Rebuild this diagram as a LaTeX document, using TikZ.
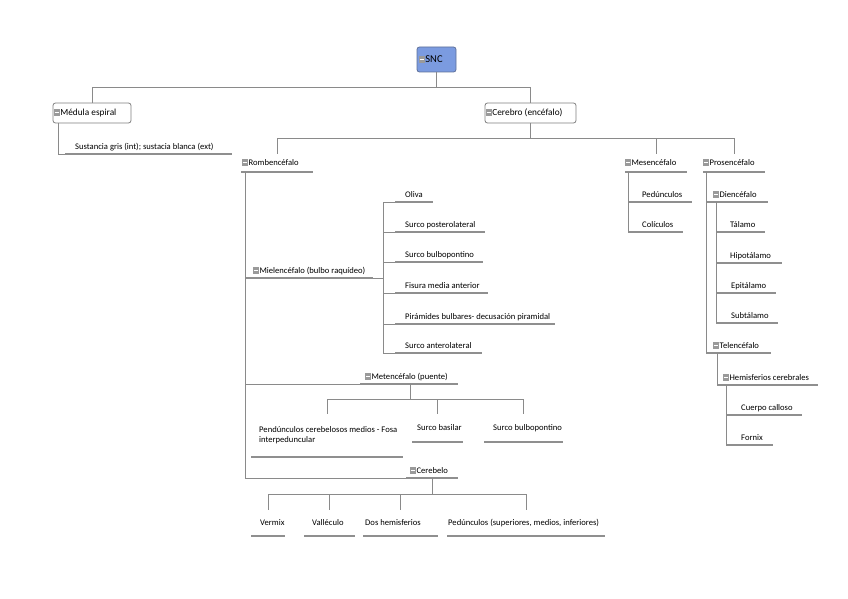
\documentclass[tikz,border=0pt]{standalone}
\usepackage{fontspec}
\setmainfont{Carlito}
\definecolor{lnc}{HTML}{8A8A8A}
\definecolor{ulc}{HTML}{8F8F8F}
\definecolor{sncfill}{HTML}{7B9BE0}
\definecolor{sncdraw}{HTML}{5E7099}
\definecolor{boxdraw}{HTML}{7F7F7F}
\definecolor{icc}{HTML}{9A9A9A}
\newcommand\xic{\textcolor{icc}{\rule[-0.5pt]{5.5pt}{7pt}}\kern-4.8pt\textcolor{white}{\rule[2.6pt]{4.1pt}{0.8pt}}\kern1.6pt}
\newcommand\leaftext[3]{\makebox[#1pt][l]{\hspace*{#2pt}#3}}
\tikzset{
  conn/.style={draw=lnc, line width=0.8pt},
  ul/.style={draw=ulc, line width=1.2pt},
  tbase/.style={font=\fontsize{8.6}{10.5}\selectfont, inner sep=0pt, anchor=south west},
  leaf/.style={tbase, text height=6.5pt, text depth=2pt, inner ysep=2.5pt},
  topleaf/.style={leaf, minimum height=18pt},
  dleaf/.style={leaf, minimum height=26pt},
  box/.style={draw=boxdraw, line width=0.8pt, rounded corners=2.5pt, fill=white,
    inner xsep=1pt, inner ysep=0pt, minimum height=20pt, font=\fontsize{9.3}{11}\selectfont},
  sncbox/.style={draw=sncdraw, line width=0.8pt, rounded corners=2.5pt, fill=sncfill,
    inner xsep=2pt, inner ysep=0pt, minimum height=25pt, font=\fontsize{10.5}{12}\selectfont}
}
\begin{document}
\begin{tikzpicture}[x=1pt,y=-1pt]
\useasboundingbox (0,0) rectangle (848,599);
% top level
\node[sncbox] (snc) at (436.5,59.5) {\leaftext{35}{0}{\xic SNC}};
\node[box] (med) at (92,113) {\leaftext{76}{0}{\xic Médula espiral}};
\node[box] (cer) at (530.5,113) {\leaftext{89}{0}{\xic Cerebro (encéfalo)}};
\node[leaf] (sust) at (65,154) {\leaftext{167}{10}{Sustancia gris (int); sustacia blanca (ext)}};
% second level
\node[topleaf] (romb) at (241,172) {\leaftext{72}{1}{\xic Rombencéfalo}};
\node[topleaf] (mes) at (625,172) {\leaftext{62}{0}{\xic Mesencéfalo}};
\node[topleaf] (pros) at (703,172) {\leaftext{62}{0}{\xic Prosencéfalo}};
% mesencefalo
\node[leaf] (ped) at (628,202) {\leaftext{64}{14}{Pedúnculos}};
\node[leaf] (col) at (628,232) {\leaftext{55}{14}{Colículos}};
% prosencefalo
\node[leaf] (dien) at (706,202) {\leaftext{62}{7}{\xic Diencéfalo}};
\node[leaf] (tal) at (716,232) {\leaftext{49}{14}{Tálamo}};
\node[leaf] (hip) at (716,263) {\leaftext{66}{14}{Hipotálamo}};
\node[leaf] (epi) at (716,293) {\leaftext{60}{15}{Epitálamo}};
\node[leaf] (sub) at (716,323) {\leaftext{62}{15}{Subtálamo}};
\node[leaf] (tel) at (706,353) {\leaftext{65}{7}{\xic Telencéfalo}};
\node[leaf] (hem) at (717,385) {\leaftext{101}{6}{\xic Hemisferios cerebrales}};
\node[leaf] (cue) at (726,415) {\leaftext{76}{15}{Cuerpo calloso}};
\node[leaf] (forn) at (726,445) {\leaftext{47}{15}{Fornix}};
% rombencefalo
\node[leaf] (miel) at (245,278) {\leaftext{128}{8}{\xic Mielencéfalo (bulbo raquídeo)}};
\node[leaf] (oli) at (395,202) {\leaftext{38}{10}{Oliva}};
\node[leaf] (spl) at (395,232) {\leaftext{90}{10}{Surco posterolateral}};
\node[leaf] (sbp) at (395,262) {\leaftext{88}{10}{Surco bulbopontino}};
\node[leaf] (fma) at (395,293) {\leaftext{93}{10}{Fisura media anterior}};
\node[leaf] (pir) at (395,324) {\leaftext{160}{10}{Pirámides bulbares- decusación piramidal}};
\node[leaf] (sal) at (395,353) {\leaftext{87}{10}{Surco anterolateral}};
\node[leaf] (met) at (360,384) {\leaftext{98}{5}{\xic Metencéfalo (puente)}};
\node[tbase, minimum height=43pt] (pcm) at (251,457) {\makebox[152pt][l]{\begin{tabular}{@{\hspace{8pt}}l@{}}Pendúnculos cerebelosos medios - Fosa\\interpeduncular\end{tabular}}};
\node[leaf, minimum height=28pt] (sba) at (412,442) {\leaftext{51}{5}{Surco basilar}};
\node[leaf, minimum height=28pt] (sbp2) at (484,442) {\leaftext{79}{9}{Surco bulbopontino}};
\node[leaf] (cbl) at (406,478) {\leaftext{52}{4}{\xic Cerebelo}};
\node[dleaf] (ver) at (251,536) {\leaftext{34}{9}{Vermix}};
\node[dleaf] (val) at (304,536) {\leaftext{51}{8}{Valléculo}};
\node[dleaf] (dos) at (363,536) {\leaftext{75}{2}{Dos hemisferios}};
\node[dleaf] (pdc) at (447,536) {\leaftext{158}{1}{Pedúnculos (superiores, medios, inferiores)}};
% underlines
\foreach \n in {sust,romb,mes,pros,ped,col,dien,tal,hip,epi,sub,tel,hem,cue,forn,miel,oli,spl,sbp,fma,pir,sal,met,pcm,sba,sbp2,cbl,ver,val,dos,pdc}
  \draw[ul] (\n.south west) -- (\n.south east);
% connectors
\draw[conn] (snc.south) -- ++(0,15) -| (med.north);
\draw[conn] (snc.south) -- ++(0,15) -| (cer.north);
\draw[conn] ([xshift=6pt]med.south west) |- (sust.south west);
\foreach \c in {romb,mes,pros}
  \draw[conn] (cer.south) -- ++(0,15) -| (\c.north);
\foreach \c in {miel,met,cbl}
  \draw[conn] ([xshift=4pt]romb.south west) |- (\c.south west);
\foreach \c in {oli,spl,sbp,fma,pir,sal}
  \draw[conn] (miel.south east) -- ++(10,0) |- (\c.south west);
\foreach \c in {pcm,sba,sbp2}
  \draw[conn] ([xshift=50pt]met.south west) -- ++(0,15) -| (\c.north);
\foreach \c in {ver,val,dos,pdc}
  \draw[conn] ([xshift=26pt]cbl.south west) -- ++(0,16) -| (\c.north);
\foreach \c in {ped,col}
  \draw[conn] ([xshift=3pt]mes.south west) |- (\c.south west);
\foreach \c in {dien,tel}
  \draw[conn] ([xshift=3pt]pros.south west) |- (\c.south west);
\foreach \c in {tal,hip,epi,sub}
  \draw[conn] ([xshift=10pt]dien.south west) |- (\c.south west);
\draw[conn] ([xshift=11pt]tel.south west) |- (hem.south west);
\foreach \c in {cue,forn}
  \draw[conn] ([xshift=9pt]hem.south west) |- (\c.south west);
\end{tikzpicture}
\end{document}
